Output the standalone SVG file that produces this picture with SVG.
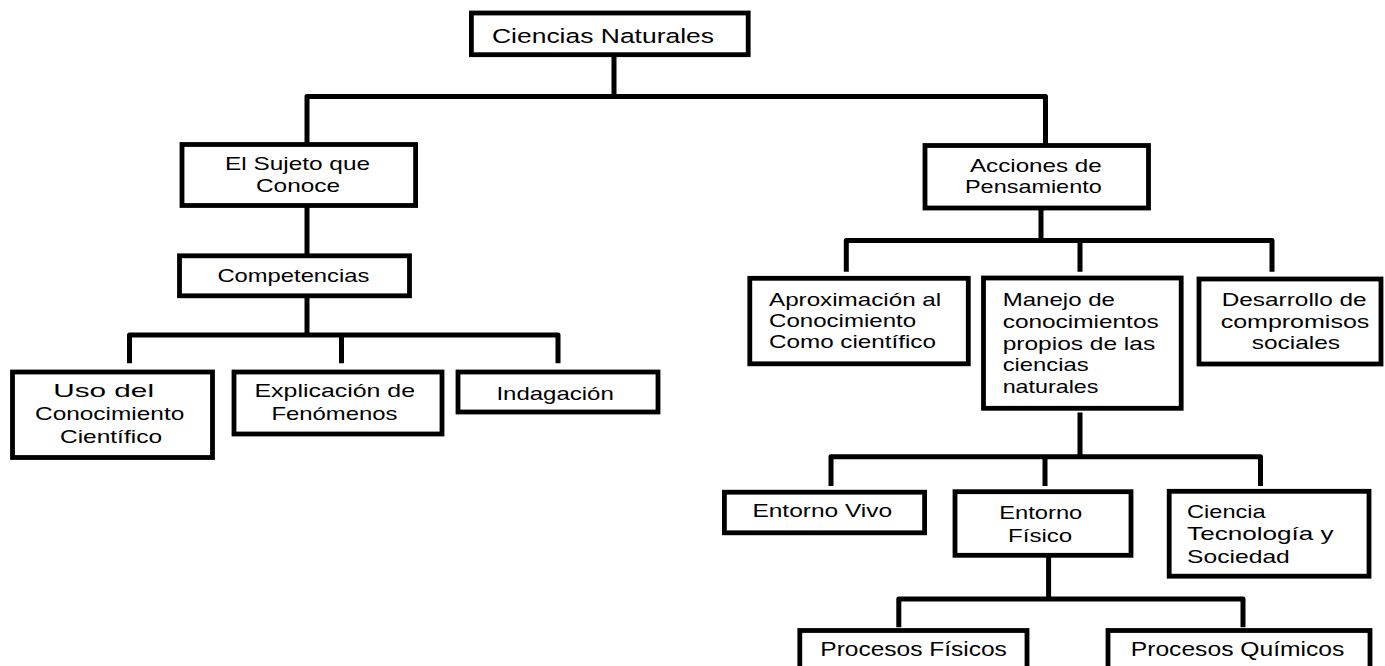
<svg xmlns="http://www.w3.org/2000/svg" width="1385" height="666" viewBox="0 0 1385 666">
<style>
.box{fill:#fff;stroke:#000;stroke-width:4.8}
.con{fill:none;stroke:#000;stroke-width:5;stroke-linejoin:round}
text{font-family:"Liberation Sans",Arial,sans-serif;font-size:18.5px;fill:#000}
.big{font-size:20.5px}
</style>
<rect width="1385" height="666" fill="#fff"/>
<g id="connectors">
<path class="con" d="M614 54.7V96.5M307 144V96.5H1045.5V145"/>
<path class="con" d="M307 205.5V255.8"/>
<path class="con" d="M307 295.8V335M129.5 363.3V335H558V363.3M341.5 335V363.3"/>
<path class="con" d="M1041 208V240.5M846.3 271.7V240.5H1272V271.7M1080 240.5V271.7"/>
<path class="con" d="M1080 412.5V456.8M831 486V456.8H1260.5V486M1045 456.8V486"/>
<path class="con" d="M1048.6 555.3V599M898.8 627.3V599H1243V627.3"/>
</g>
<g id="ciencias-naturales">
<rect class="box" x="471.4" y="13" width="276.8" height="41.7"/>
<text class="big" x="492" y="43.3" textLength="222" lengthAdjust="spacingAndGlyphs">Ciencias Naturales</text>
</g>
<g id="sujeto">
<rect class="box" x="182" y="144.5" width="233.6" height="61"/>
<text x="225" y="170" textLength="145" lengthAdjust="spacingAndGlyphs">El Sujeto que</text>
<text x="256" y="191.7" textLength="84" lengthAdjust="spacingAndGlyphs">Conoce</text>
</g>
<g id="acciones">
<rect class="box" x="925" y="145.5" width="223.5" height="62.5"/>
<text x="970" y="171.7" textLength="131.7" lengthAdjust="spacingAndGlyphs">Acciones de</text>
<text x="965" y="193.3" textLength="136.7" lengthAdjust="spacingAndGlyphs">Pensamiento</text>
</g>
<g id="competencias">
<rect class="box" x="179.5" y="255.8" width="230" height="40"/>
<text x="217.4" y="281.7" textLength="152" lengthAdjust="spacingAndGlyphs">Competencias</text>
</g>
<g id="uso">
<rect class="box" x="12.5" y="372" width="200" height="85.5"/>
<text x="53.3" y="396.7" textLength="100.7" lengthAdjust="spacingAndGlyphs">Uso del</text>
<text x="35" y="420" textLength="149.3" lengthAdjust="spacingAndGlyphs">Conocimiento</text>
<text x="60" y="443.3" textLength="102" lengthAdjust="spacingAndGlyphs">Científico</text>
</g>
<g id="explicacion">
<rect class="box" x="234" y="372" width="208" height="62"/>
<text x="254.5" y="397.3" textLength="160.5" lengthAdjust="spacingAndGlyphs">Explicación de</text>
<text x="271.4" y="420" textLength="126" lengthAdjust="spacingAndGlyphs">Fenómenos</text>
</g>
<g id="indagacion">
<rect class="box" x="458" y="372" width="200" height="40"/>
<text x="496.4" y="400" textLength="117.4" lengthAdjust="spacingAndGlyphs">Indagación</text>
</g>
<g id="aproximacion">
<rect class="box" x="749.8" y="278.3" width="218.5" height="85.5"/>
<text x="769" y="306" textLength="172.2" lengthAdjust="spacingAndGlyphs">Aproximación al</text>
<text x="769" y="326.7" textLength="147.2" lengthAdjust="spacingAndGlyphs">Conocimiento</text>
<text x="769" y="348.3" textLength="166.9" lengthAdjust="spacingAndGlyphs">Como científico</text>
</g>
<g id="manejo">
<rect class="box" x="983.5" y="278" width="197.7" height="130.3"/>
<text x="1002.7" y="306" textLength="112.3" lengthAdjust="spacingAndGlyphs">Manejo de</text>
<text x="1002.7" y="327.8" textLength="156" lengthAdjust="spacingAndGlyphs">conocimientos</text>
<text x="1002.7" y="349.6" textLength="152.5" lengthAdjust="spacingAndGlyphs">propios de las</text>
<text x="1002.7" y="371.4" textLength="86" lengthAdjust="spacingAndGlyphs">ciencias</text>
<text x="1002.7" y="393.2" textLength="95.7" lengthAdjust="spacingAndGlyphs">naturales</text>
</g>
<g id="desarrollo">
<rect class="box" x="1199" y="279" width="182" height="85"/>
<text x="1221.7" y="306" textLength="145" lengthAdjust="spacingAndGlyphs">Desarrollo de</text>
<text x="1220.7" y="327.5" textLength="148.6" lengthAdjust="spacingAndGlyphs">compromisos</text>
<text x="1251.7" y="349.3" textLength="88.3" lengthAdjust="spacingAndGlyphs">sociales</text>
</g>
<g id="entorno-vivo">
<rect class="box" x="724.4" y="492.2" width="200.2" height="40.6"/>
<text x="752.4" y="517.3" textLength="139.8" lengthAdjust="spacingAndGlyphs">Entorno Vivo</text>
</g>
<g id="entorno-fisico">
<rect class="box" x="955" y="491.7" width="176" height="63.6"/>
<text x="999.3" y="519.3" textLength="83" lengthAdjust="spacingAndGlyphs">Entorno</text>
<text x="1008" y="541.7" textLength="64.2" lengthAdjust="spacingAndGlyphs">Físico</text>
</g>
<g id="cts">
<rect class="box" x="1169.2" y="491.3" width="199.8" height="84.9"/>
<text x="1187.1" y="518.3" textLength="78.6" lengthAdjust="spacingAndGlyphs">Ciencia</text>
<text x="1187.1" y="540" textLength="146.4" lengthAdjust="spacingAndGlyphs">Tecnología y</text>
<text x="1187.1" y="562.7" textLength="102.7" lengthAdjust="spacingAndGlyphs">Sociedad</text>
</g>
<g id="procesos-fisicos">
<rect class="box" x="799.8" y="630.5" width="227.2" height="50"/>
<text class="big" x="820.3" y="656.3" textLength="186.5" lengthAdjust="spacingAndGlyphs">Procesos Físicos</text>
</g>
<g id="procesos-quimicos">
<rect class="box" x="1108" y="630.5" width="262" height="50"/>
<text class="big" x="1130.8" y="656.3" textLength="213.5" lengthAdjust="spacingAndGlyphs">Procesos Químicos</text>
</g>
</svg>
